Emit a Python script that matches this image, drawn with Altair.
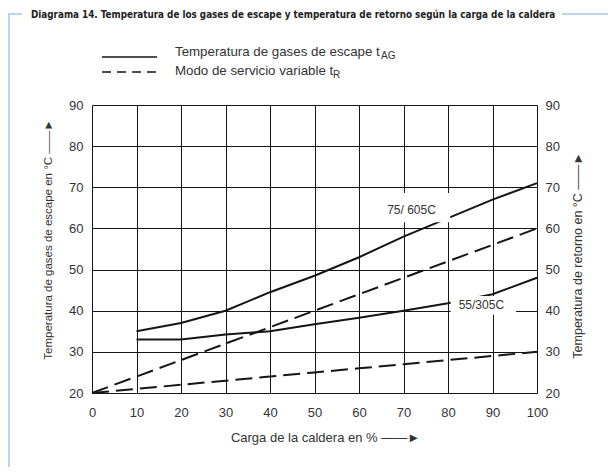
import altair as alt
import pandas as pd

# ---- data ----
load = [10, 20, 30, 40, 50, 60, 70, 80, 90, 100]
t_ag_75_60 = [35, 37, 40, 44.5, 48.5, 53, 58, 62.5, 67, 71]
t_ag_55_30 = [33, 33, 34.2, 35, 36.7, 38.3, 40, 41.8, 44, 48]

load_r = [0, 10, 20, 30, 40, 50, 60, 70, 80, 90, 100]
t_r_75_60 = [20, 24, 28, 32, 36, 40, 44, 48, 52, 56, 60]
t_r_55_30 = [20, 21, 22, 23, 24, 25, 26, 27, 28, 29, 30]

ticks_x = [0, 10, 20, 30, 40, 50, 60, 70, 80, 90, 100]
ticks_y = [20, 30, 40, 50, 60, 70, 80, 90]

curve_labels = ["75/ 605C", "55/305C"]
label_x = [71.8, 87.5]
label_y = [64.5, 41.3]
box_x = [67.5, 80.6]
box_x2 = [80.5, 95.3]
box_y = [61.5, 39.0]
box_y2 = [68.6, 43.6]

title_text = ("Diagrama 14. Temperatura de los gases de escape y temperatura "
              "de retorno según la carga de la caldera")
legend_texts = ["Temperatura de gases de escape t", "Modo de servicio variable t"]
legend_subs = ["AG", "R"]

# ---- tables ----
solid_df = pd.DataFrame({
    "x": load * 2,
    "y": t_ag_75_60 + t_ag_55_30,
    "s": ["75/60"] * len(load) + ["55/30"] * len(load),
})
dash_df = pd.DataFrame({
    "x": load_r * 2,
    "y": t_r_75_60 + t_r_55_30,
    "s": ["75/60"] * len(load_r) + ["55/30"] * len(load_r),
})
lab_df = pd.DataFrame({"t": curve_labels, "x": label_x, "y": label_y,
                       "bx": box_x, "bx2": box_x2, "by": box_y, "by2": box_y2})

FONT = "Liberation Sans"
TXT = "#333333"
LINE = "#151515"
BLUE = "#a9c4e6"

xs = alt.Scale(domain=[0, 100], nice=False, zero=False)
ys = alt.Scale(domain=[20, 90], nice=False, zero=False)

x_axis = alt.Axis(values=ticks_x, grid=True, gridColor=LINE, gridWidth=1,
                  ticks=False, domain=False, labelFont=FONT, labelFontSize=13,
                  labelColor=TXT, labelPadding=13, title="Carga de la caldera en %  ——►",
                  titleFont=FONT, titleFontSize=13, titleFontWeight="normal",
                  titleColor=TXT, titleX=233, titleY=44, titleAlign="center",
                  titleBaseline="middle", labelFlush=False)
y_axis = alt.Axis(values=ticks_y, grid=True, gridColor=LINE, gridWidth=1,
                  ticks=False, domain=False, labelFont=FONT, labelFontSize=13,
                  labelColor=TXT, labelPadding=9,
                  title="Temperatura de gases de escape en °C  ——►",
                  titleFont=FONT, titleFontSize=11.5, titleFontWeight="normal",
                  titleColor=TXT, titleX=-44, titleY=134, titleAngle=270,
                  titleAlign="center", titleBaseline="middle", labelFlush=False)
y_axis_r = alt.Axis(values=ticks_y, grid=False, orient="right",
                    ticks=False, domain=False, labelFont=FONT, labelFontSize=13,
                    labelColor=TXT, labelPadding=8,
                    title="Temperatura de retorno en °C  ——►", titleAngle=270,
                    titleFont=FONT, titleFontSize=12.5, titleFontWeight="normal",
                    titleColor=TXT, titleX=40, titleY=150, titleAlign="center",
                    titleBaseline="middle", labelFlush=False)

base_solid = alt.Chart(solid_df)
solid = base_solid.mark_line(color=LINE, strokeWidth=2).encode(
    x=alt.X("x:Q", scale=xs, axis=x_axis),
    y=alt.Y("y:Q", scale=ys, axis=y_axis),
    detail="s:N",
)
right_axis = base_solid.mark_line(opacity=0).encode(
    x=alt.X("x:Q", scale=xs, axis=None),
    y=alt.Y("y:Q", scale=ys, axis=y_axis_r),
    detail="s:N",
)
dashed = alt.Chart(dash_df).mark_line(color=LINE, strokeWidth=2,
                                      strokeDash=[17, 7]).encode(
    x=alt.X("x:Q", scale=xs, axis=None),
    y=alt.Y("y:Q", scale=ys, axis=None),
    detail="s:N",
)
boxes = alt.Chart(lab_df).mark_rect(color="white").encode(
    x=alt.X("bx:Q", scale=xs, axis=None), x2="bx2:Q",
    y=alt.Y("by:Q", scale=ys, axis=None), y2="by2:Q",
)
labels = alt.Chart(lab_df).mark_text(font=FONT, fontSize=12, color=TXT,
                                     align="center", baseline="middle").encode(
    x=alt.X("x:Q", scale=xs, axis=None),
    y=alt.Y("y:Q", scale=ys, axis=None),
    text="t:N",
)

# ---- decorations (frame, heading, legend) in pixels relative to plot origin ----
one = pd.DataFrame({"k": [0]})
deco = []
deco.append(alt.Chart(one).mark_rule(color=BLUE, strokeWidth=1.5).encode(
    x=alt.value(-83), y=alt.value(-91), y2=alt.value(365)))
deco.append(alt.Chart(one).mark_rule(color=BLUE, strokeWidth=1.5).encode(
    x=alt.value(-83.75), x2=alt.value(-70), y=alt.value(-91)))
deco.append(alt.Chart(one).mark_rule(color=BLUE, strokeWidth=1.5).encode(
    x=alt.value(470), x2=alt.value(520), y=alt.value(-91)))
deco.append(alt.Chart(one).mark_text(
    text=title_text, font="Liberation Sans Narrow, DejaVu Sans Condensed",
    fontSize=9.8, fontWeight="bold", color="#222222", align="left",
    baseline="alphabetic").encode(x=alt.value(-61), y=alt.value(-87.5)))
# legend
deco.append(alt.Chart(one).mark_rule(color=LINE, strokeWidth=1.3).encode(
    x=alt.value(10), x2=alt.value(65), y=alt.value(-48)))
deco.append(alt.Chart(one).mark_rule(color=LINE, strokeWidth=1.3,
                                     strokeDash=[9, 6]).encode(
    x=alt.value(10), x2=alt.value(65), y=alt.value(-33)))
for i, (txt, sub) in enumerate(zip(legend_texts, legend_subs)):
    yb = -49 if i == 0 else -30
    xsub = 289 if i == 0 else 241
    deco.append(alt.Chart(one).mark_text(
        text=txt, font=FONT, fontSize=13.3, color=TXT, align="left",
        baseline="alphabetic").encode(x=alt.value(83), y=alt.value(yb)))
    deco.append(alt.Chart(one).mark_text(
        text=sub, font=FONT, fontSize=10, color=TXT, align="left",
        baseline="alphabetic").encode(x=alt.value(xsub), y=alt.value(yb + 3)))

chart = alt.layer(solid, boxes, dashed, labels, right_axis, *deco).resolve_scale(
    x="shared", y="shared").resolve_axis(x="independent", y="independent").properties(
    width=445, height=288,
    autosize=alt.AutoSizeParams(type="none"),
    padding={"left": 84, "top": 97, "right": 71, "bottom": 74},
).configure_view(stroke="#555555", strokeWidth=1.2).configure(background="white")

chart.save("out.html", embed_options={"renderer": "svg", "actions": False})
